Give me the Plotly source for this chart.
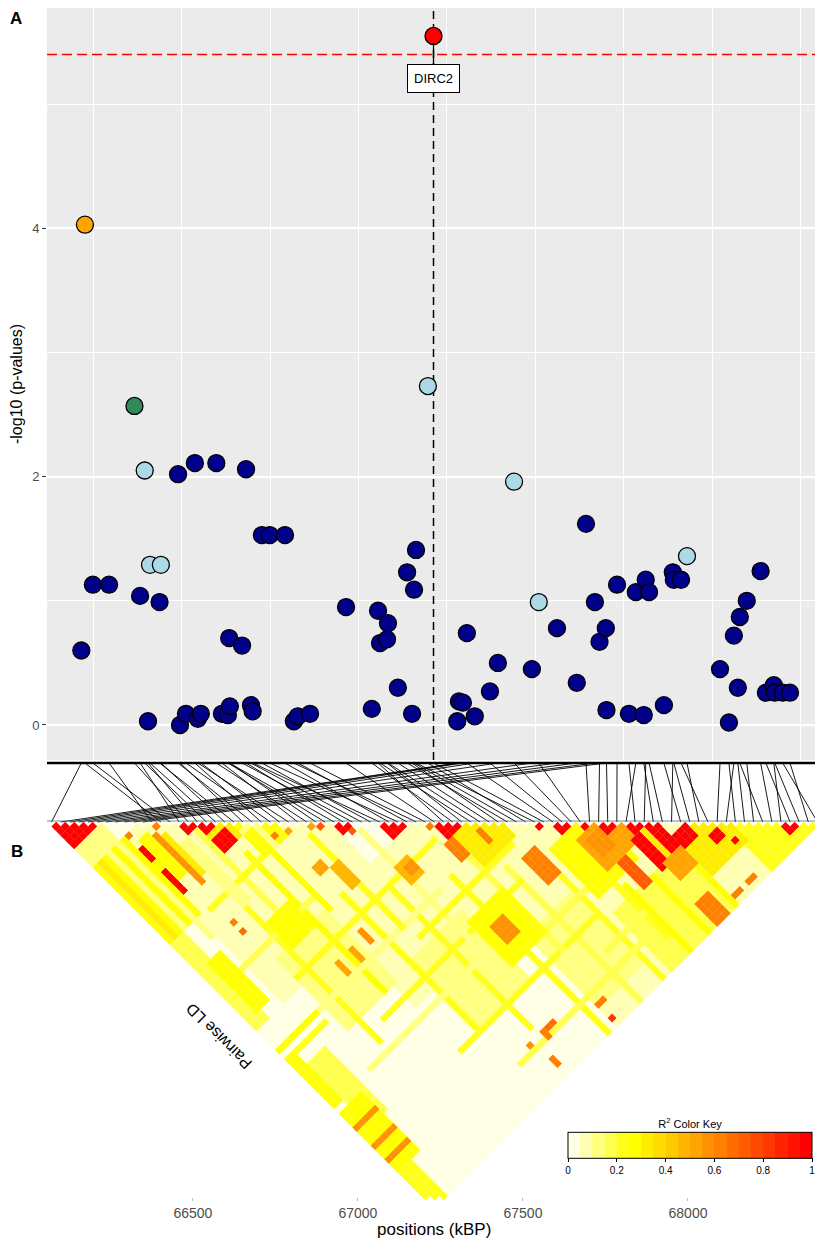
import numpy as np
import plotly.graph_objects as go

# ---- panel A: regional association ----
snp_kbp = [66162, 66173, 66197, 66246, 66323, 66340, 66354, 66364, 66370, 66399,
           66403, 66455, 66461, 66479, 66506, 66515, 66524, 66571, 66588, 66606,
           66612, 66610, 66649, 66661, 66676, 66681, 66709, 66733, 66779, 66806,
           66818, 66855, 66964, 67042, 67061, 67067, 67088, 67091, 67121, 67149,
           67164, 67170, 67176, 67212, 67229, 67301, 67306, 67318, 67330, 67354,
           67400, 67424, 67473, 67527, 67548, 67603, 67663, 67691, 67718, 67732,
           67751, 67753, 67785, 67821, 67842, 67866, 67872, 67882, 67927, 67954,
           67957, 67979, 67997, 68097, 68124, 68139, 68151, 68157, 68178, 68220,
           68236, 68260, 68263, 68287, 68309]
snp_logp = [0.60, 4.03, 1.13, 1.13, 2.57, 1.04, 2.05, 0.03, 1.29, 0.99,
            1.29, 2.02, 0.00, 0.09, 2.11, 0.05, 0.09, 2.11, 0.09, 0.08,
            0.15, 0.70, 0.64, 2.06, 0.16, 0.11, 1.53, 1.53, 1.53, 0.03,
            0.07, 0.09, 0.95, 0.13, 0.92, 0.66, 0.69, 0.82, 0.30, 1.23,
            0.09, 1.09, 1.41, 2.73, 5.55, 0.03, 0.19, 0.18, 0.74, 0.07,
            0.27, 0.50, 1.96, 0.45, 0.99, 0.78, 0.34, 1.62, 0.99, 0.67,
            0.78, 0.12, 1.13, 0.09, 1.07, 0.08, 1.17, 1.07, 0.16, 1.23,
            1.17, 1.17, 1.36, 0.45, 0.02, 0.72, 0.30, 0.87, 1.00, 1.24,
            0.26, 0.32, 0.26, 0.26, 0.26]
# r2 class with the lead SNP: 0 <0.2, 1 0.2-0.4, 2 0.4-0.6, 3 0.6-0.8, 4 lead
snp_ld_class = [0, 3, 0, 0, 2, 0, 1, 0, 1, 0,
                1, 0, 0, 0, 0, 0, 0, 0, 0, 0,
                0, 0, 0, 0, 0, 0, 0, 0, 0, 0,
                0, 0, 0, 0, 0, 0, 0, 0, 0, 0,
                0, 0, 0, 1, 4, 0, 0, 0, 0, 0,
                0, 0, 1, 0, 1, 0, 0, 0, 0, 0,
                0, 0, 0, 0, 0, 0, 0, 0, 0, 0,
                0, 0, 1, 0, 0, 0, 0, 0, 0, 0,
                0, 0, 0, 0, 0]
lead_gene = "DIRC2"
threshold = 5.40

# ---- panel B: LD heatmap ----
# position of each SNP along the heatmap diagonal
heat_slot = [0, 12, 13, 11, 15, 14, 17, 16, 18, 20, 19, 22, 21, 24, 23, 26, 25, 28, 27, 30,
             29, 31, 33, 32, 34, 36, 35, 38, 37, 40, 39, 41, 42, 44, 43, 46, 45, 47, 48, 50,
             49, 51, 53, 52, 54, 1, 2, 3, 55, 4, 56, 5, 57, 6, 58, 7, 8, 59, 9, 60,
             10, 61, 62, 64, 63, 66, 65, 67, 69, 68, 70, 72, 71, 73, 75, 74, 76, 78, 77, 79,
             81, 80, 82, 84, 83]
ld_background = 0.02
# (i from, i to, j from, j to, r2) in diagonal order, read as blocks
ld_blocks = [
    (6, 30, 10, 45, 0.07), (20, 45, 40, 60, 0.07), (40, 75, 45, 84, 0.07),
    (10, 20, 40, 55, 0.12), (25, 35, 55, 70, 0.12), (40, 50, 65, 80, 0.12),
    (52, 66, 72, 84, 0.17), (74, 84, 74, 84, 0.22),
    (12, 12, 30, 60, 0.22), (18, 18, 25, 55, 0.27), (24, 24, 40, 70, 0.22),
    (30, 30, 45, 75, 0.22), (38, 38, 50, 84, 0.22), (45, 45, 55, 84, 0.17),
    (50, 50, 60, 84, 0.22), (10, 40, 44, 44, 0.22), (15, 45, 58, 58, 0.22),
    (20, 50, 70, 70, 0.22), (5, 35, 50, 50, 0.12), (25, 55, 78, 78, 0.17),
    (8, 30, 62, 62, 0.12), (0, 8, 50, 50, 0.27), (0, 8, 52, 52, 0.22),
    (27, 27, 30, 50, 0.22), (33, 33, 35, 60, 0.12), (21, 21, 23, 40, 0.27),
    (15, 15, 16, 35, 0.17), (42, 42, 44, 70, 0.17), (55, 55, 57, 80, 0.22),
    (35, 60, 66, 66, 0.17), (8, 25, 27, 27, 0.22), (3, 20, 37, 37, 0.17),
    (28, 48, 53, 53, 0.22), (47, 60, 75, 75, 0.17),
    (0, 6, 10, 26, 0.27), (0, 5, 6, 9, 0.12), (3, 3, 10, 26, 0.12),
    (5, 5, 10, 30, 0.12), (1, 1, 10, 35, 0.32), (0, 2, 27, 45, 0.17),
    (2, 4, 33, 43, 0.27), (0, 1, 52, 62, 0.27), (2, 5, 55, 68, 0.17),
    (0, 4, 64, 76, 0.27), (0, 4, 67, 67, 0.57), (0, 4, 71, 71, 0.57),
    (0, 4, 74, 74, 0.57), (0, 2, 77, 84, 0.22), (0, 5, 0, 5, 0.97),
    (8, 9, 12, 20, 0.27), (12, 13, 17, 30, 0.12), (7, 7, 10, 10, 0.62),
    (11, 11, 12, 12, 0.62), (14, 16, 14, 16, 0.97), (16, 22, 16, 22, 0.97),
    (19, 19, 16, 22, 0.32), (10, 10, 13, 23, 0.57), (11, 11, 14, 22, 0.32),
    (7, 7, 13, 22, 0.97), (7, 7, 16, 17, 0.27), (13, 17, 35, 40, 0.27),
    (9, 9, 31, 31, 0.62), (9, 9, 33, 33, 0.67), (20, 24, 20, 27, 0.27),
    (22, 22, 20, 27, 0.12), (23, 23, 26, 26, 0.62), (25, 25, 27, 27, 0.52),
    (28, 28, 29, 29, 0.52), (29, 29, 30, 30, 0.72), (31, 33, 31, 33, 0.97),
    (32, 32, 34, 34, 0.72), (24, 25, 34, 35, 0.52), (26, 27, 36, 40, 0.47),
    (22, 22, 46, 48, 0.57), (19, 19, 47, 49, 0.52), (16, 16, 47, 49, 0.52),
    (36, 39, 36, 39, 0.97), (33, 35, 43, 46, 0.47), (34, 35, 44, 45, 0.57),
    (41, 41, 42, 42, 0.62), (42, 45, 42, 45, 0.97), (41, 43, 46, 49, 0.62),
    (43, 49, 46, 52, 0.32), (46, 46, 48, 50, 0.62), (53, 53, 54, 54, 0.97),
    (55, 57, 55, 57, 0.97), (48, 50, 56, 61, 0.62), (35, 42, 57, 66, 0.27),
    (37, 39, 60, 63, 0.57), (52, 60, 58, 68, 0.27), (56, 62, 60, 66, 0.52),
    (57, 59, 61, 64, 0.57), (58, 58, 59, 59, 0.97), (60, 62, 60, 62, 0.97),
    (63, 65, 63, 65, 0.97), (62, 66, 66, 72, 0.97), (64, 64, 66, 72, 0.32),
    (58, 59, 67, 69, 0.72), (58, 59, 70, 72, 0.72), (63, 66, 72, 75, 0.52),
    (60, 60, 72, 84, 0.27), (56, 56, 70, 84, 0.27), (66, 66, 76, 84, 0.27),
    (67, 74, 70, 78, 0.32), (67, 69, 70, 72, 0.97), (73, 73, 77, 77, 0.97),
    (71, 72, 74, 75, 0.97), (80, 82, 80, 82, 0.97), (70, 71, 83, 83, 0.62),
    (67, 68, 83, 83, 0.62), (62, 64, 80, 84, 0.62), (40, 41, 80, 80, 0.62),
    (40, 40, 83, 83, 0.82), (32, 33, 77, 77, 0.67), (31, 31, 77, 78, 0.62),
    (28, 28, 77, 77, 0.57), (29, 29, 81, 82, 0.62),
]
key_ticks = [0, 0.2, 0.4, 0.6, 0.8, 1]
pos_ticks = [66500, 67000, 67500, 68000]

# colours
class_colors = ["#00008B", "#ADD8E6", "#2E8B57", "#FFA500", "#FF0000"]
key_colors = ["#FFFFE6", "#FFFFB3", "#FFFF80", "#FFFF4D", "#FFFF1A",
              "#FFFF00", "#FFED00", "#FFDB00", "#FFC900", "#FFB600",
              "#FFA400", "#FF9200", "#FF8000", "#FF6D00", "#FF5B00",
              "#FF4900", "#FF3700", "#FF2400", "#FF1200", "#FF0000"]

# the page adds an 8px body margin, so the figure is laid out in page pixels minus 8
OFF = 8
W, H = 823 - OFF, 1249 - 2 * OFF
FONT = "Liberation Sans, Arial, sans-serif"


def px(p):
    return (p - OFF) / W


def py(p):
    return min(1.0, max(0.0, 1 - (p - OFF) / H))


x_lo, x_hi = 66058, 68406
u_per_px = (x_hi - x_lo) / 775.0     # kbp per pixel, shared by both panels
heat_top_px = 822
line_top_px = 763
axis_px = 1197
panel_top_px = OFF

n = len(snp_kbp)
cw = (x_hi - x_lo) / n               # width of one diagonal slot
slot_x = [x_lo + (s + 0.5) * cw for s in range(n)]

# LD matrix
ld = np.full((n, n), ld_background)
for i0, i1, j0, j1, r2 in ld_blocks:
    for a in range(i0, i1 + 1):
        for b in range(j0, j1 + 1):
            if a != b:
                ld[min(a, b), max(a, b)] = r2

cx, cy, cv = [], [], []
for i in range(n):
    for j in range(i + 1, n):
        cx.append(x_lo + ((i + j) / 2 + 0.5) * cw)
        cy.append(-(j - i) * cw / 2)
        cv.append(ld[i, j])

colorscale = []
for k, c in enumerate(key_colors):
    colorscale += [[k / 20, c], [(k + 1) / 20, c]]

y_lo = -0.282
y_hi = (725 - panel_top_px) / 124.15
lead = snp_ld_class.index(4)

fig = go.Figure()

# threshold and lead position (drawn first so the points sit on top)
fig.add_trace(go.Scatter(x=[x_lo, x_hi], y=[threshold, threshold], mode="lines",
                         xaxis="x", yaxis="y", hoverinfo="skip",
                         line=dict(color="red", width=1.5, dash="10px,5px")))
fig.add_trace(go.Scatter(x=[snp_kbp[lead], snp_kbp[lead]], y=[y_lo, y_hi], mode="lines",
                         xaxis="x", yaxis="y", hoverinfo="skip",
                         line=dict(color="black", width=1.5, dash="8px,5px")))

# panel A points
for cls in range(5):
    idx = [k for k in range(n) if snp_ld_class[k] == cls]
    fig.add_trace(go.Scatter(
        x=[snp_kbp[k] for k in idx], y=[snp_logp[k] for k in idx],
        mode="markers", xaxis="x", yaxis="y",
        marker=dict(size=17, color=class_colors[cls], line=dict(width=1.3, color="black")),
        hoverinfo="x+y"
    ))

# connector lines from physical position to heatmap slot
line_top = (heat_top_px - line_top_px) * u_per_px
lx, ly = [], []
for k in range(n):
    lx += [snp_kbp[k], slot_x[heat_slot[k]], None]
    ly += [line_top, 0, None]
fig.add_trace(go.Scatter(x=lx, y=ly, mode="lines", xaxis="x2", yaxis="y2",
                         line=dict(width=0.9, color="black"), hoverinfo="skip"))

# LD cells
fig.add_trace(go.Scatter(
    x=cx, y=cy, mode="markers", xaxis="x2", yaxis="y2", cliponaxis=False,
    marker=dict(symbol="diamond", size=775.0 / n / 1.3 + 0.2, color=cv,
                colorscale=colorscale, cmin=0, cmax=1, line=dict(width=0),
                showscale=True,
                colorbar=dict(orientation="h", x=px(690), xanchor="center",
                              y=py(1148), yanchor="middle",
                              len=244, lenmode="pixels", thickness=26,
                              outlinecolor="black", outlinewidth=1,
                              xpad=0, ypad=0, ticklabeloverflow="allow",
                              tickmode="array", tickvals=key_ticks,
                              ticktext=[f"{t:g}" for t in key_ticks],
                              ticks="outside", ticklen=4, tickcolor="black",
                              tickfont=dict(size=10, color="black", family=FONT),
                              title=dict(text="R<sup>2</sup> Color Key", side="top",
                                         font=dict(size=11, color="black", family=FONT)))),
    hoverinfo="skip"
))

grid_px = [93, 181, 270, 358, 446, 535, 623, 712, 800]
grid_kbp = [x_lo + (p - 47) * u_per_px for p in grid_px]

fig.update_layout(
    width=W, height=H, margin=dict(l=0, r=0, t=0, b=0),
    template="none", paper_bgcolor="white", plot_bgcolor="white",
    showlegend=False, font=dict(family=FONT),
    xaxis=dict(domain=[px(47), px(822)], range=[x_lo, x_hi], anchor="y",
               tickvals=grid_kbp, showticklabels=False, ticks="",
               showgrid=True, gridcolor="white", gridwidth=1.3,
               zeroline=False, showline=False, automargin=False),
    yaxis=dict(domain=[py(760), py(panel_top_px)], range=[y_lo, y_hi], anchor="x",
               tickvals=[0, 2, 4], ticks="outside", ticklen=4, tickcolor="#333333",
               tickwidth=1.2, tickfont=dict(size=13, color="#4D4D4D", family=FONT),
               showgrid=True, gridcolor="white", gridwidth=1.8,
               minor=dict(tickvals=[1, 3, 5], showgrid=True, gridcolor="white",
                          gridwidth=0.9, ticks=""),
               zeroline=False, showline=False, automargin=False,
               title=dict(text="-log10 (p-values)", standoff=11,
                          font=dict(size=16, color="black", family=FONT))),
    xaxis2=dict(domain=[px(47), px(822)], matches="x", anchor="y2",
                tickvals=pos_ticks, tickformat="d", ticks="outside", ticklen=3,
                tickcolor="#BBBBBB", tickfont=dict(size=14, color="#4D4D4D", family=FONT),
                showgrid=False, zeroline=False, showline=False, automargin=False),
    yaxis2=dict(domain=[py(axis_px), py(760)], anchor="x2",
                range=[-(axis_px - heat_top_px) * u_per_px, (heat_top_px - 760) * u_per_px],
                visible=False, automargin=False),
)

# grey panel background
fig.add_shape(type="rect", xref="x domain", yref="y domain", x0=0, x1=1, y0=0, y1=1,
              fillcolor="#EBEBEB", line=dict(width=0), layer="below")
# genetic map bar above the connectors
fig.add_shape(type="line", xref="x2", yref="y2", x0=x_lo, x1=x_hi, y0=line_top, y1=line_top,
              line=dict(color="black", width=2.5))
fig.add_shape(type="line", xref="x2", yref="y2", x0=x_lo, x1=x_hi, y0=3, y1=3,
              line=dict(color="#4F6F6F", width=0.8))

fig.add_annotation(x=snp_kbp[lead], y=snp_logp[lead], xref="x", yref="y", text=lead_gene,
                   showarrow=True, ax=0, ay=43, arrowhead=0, arrowwidth=1.3,
                   arrowcolor="black", standoff=8,
                   bgcolor="white", bordercolor="black", borderwidth=1, borderpad=6,
                   font=dict(size=13, color="black", family=FONT))
fig.add_annotation(x=px(16), y=py(19), xref="paper", yref="paper", text="<b>A</b>",
                   xanchor="center", yanchor="middle", showarrow=False,
                   font=dict(size=17, color="black", family=FONT))
fig.add_annotation(x=px(17), y=py(851), xref="paper", yref="paper", text="<b>B</b>",
                   xanchor="center", yanchor="middle", showarrow=False,
                   font=dict(size=17, color="black", family=FONT))
fig.add_annotation(x=px(219), y=py(1037), xref="paper", yref="paper", text="Pairwise LD",
                   textangle=-135, xanchor="center", yanchor="middle", showarrow=False,
                   font=dict(size=16, color="black", family=FONT))
fig.add_annotation(x=px(434), y=py(1229), xref="paper", yref="paper", text="positions (kBP)",
                   xanchor="center", yanchor="middle", showarrow=False,
                   font=dict(size=17, color="black", family=FONT))

fig.write_html("out.html")
